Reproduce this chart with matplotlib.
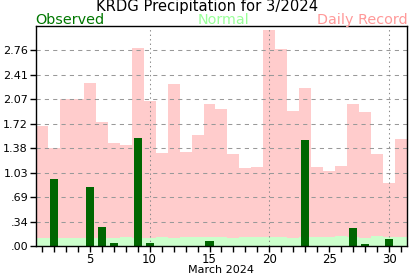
import numpy as np
import matplotlib
matplotlib.use("Agg")
import matplotlib.pyplot as plt
from matplotlib.ticker import FixedLocator, FuncFormatter

# daily values for March 2024, inches
days = np.arange(1, 32)
record = [1.69, 1.38, 2.07, 2.07, 2.30, 1.75, 1.45, 1.42, 2.79, 2.04,
          1.31, 2.28, 1.32, 1.56, 2.00, 1.93, 1.30, 1.10, 1.11, 3.04,
          2.78, 1.90, 2.23, 1.11, 1.06, 1.13, 2.00, 1.89, 1.30, 0.89, 1.51]
normal = [0.11, 0.11, 0.11, 0.11, 0.11, 0.11, 0.11, 0.125, 0.11, 0.11,
          0.125, 0.11, 0.125, 0.125, 0.125, 0.125, 0.11, 0.125, 0.125, 0.125,
          0.125, 0.11, 0.125, 0.125, 0.125, 0.14, 0.125, 0.11, 0.14, 0.125, 0.125]
observed = [0, 0.94, 0, 0, 0.83, 0.27, 0.04, 0, 1.52, 0.04,
            0, 0, 0, 0, 0.07, 0, 0, 0, 0, 0,
            0, 0, 1.49, 0, 0, 0, 0.25, 0.03, 0, 0.10, 0]
ymax = 3.10
title = "KRDG Precipitation for 3/2024"
xlabel = "March 2024"

fig = plt.figure(figsize=(4.17, 2.76), dpi=100)
ax = fig.add_axes([0.0856, 0.1087, 0.9767 - 0.0856, 0.9058 - 0.1087])

ax.bar(days, record, width=1.0, color="#ffcccc", zorder=1)
ax.bar(days, normal, width=1.0, color="#ccffcc", zorder=2)

# grid lines drawn between the background bars and the observed bars
yt = [ymax * k / 9 for k in range(10)]
for y in yt[1:-1]:
    ax.axhline(y, color="#999999", lw=0.75, ls=(0, (4, 4)), zorder=3)
for x in (10, 20, 30):
    ax.axvline(x, color="#888888", lw=0.75, ls=(0, (1.3, 3)), zorder=3)

ax.bar(days, observed, width=0.67, color="#006600", zorder=4)

ax.set_xlim(0.5, 31.5)
ax.set_ylim(0, ymax)

ax.yaxis.set_major_locator(FixedLocator(yt[:-1]))
ax.yaxis.set_major_formatter(FuncFormatter(
    lambda v, p: ("%.2f" % v).lstrip("0") if v < 1 else "%.2f" % v))
ax.xaxis.set_major_locator(FixedLocator([5, 10, 15, 20, 25, 30]))
ax.xaxis.set_minor_locator(FixedLocator(days))
ax.tick_params(axis="both", which="both", direction="out", length=4,
               width=1, labelsize=8, pad=1.5)
ax.tick_params(axis="x", which="major", labelsize=8.5, pad=1)
ax.set_xlabel(xlabel, fontsize=8, labelpad=-1)

for s in ax.spines.values():
    s.set_linewidth(1)
    s.set_zorder(5)

fig.text(0.497, 0.960, title, ha="center", va="baseline", fontsize=10.6)
fig.text(0.0856, 0.913, "Observed", ha="left", va="baseline",
         fontsize=10.4, color="#007700")
fig.text(0.536, 0.913, "Normal", ha="center", va="baseline",
         fontsize=10.4, color="#99ff99")
fig.text(0.9767, 0.913, "Daily Record", ha="right", va="baseline",
         fontsize=10.4, color="#ff9999")

fig.savefig("out.png", dpi=100)
